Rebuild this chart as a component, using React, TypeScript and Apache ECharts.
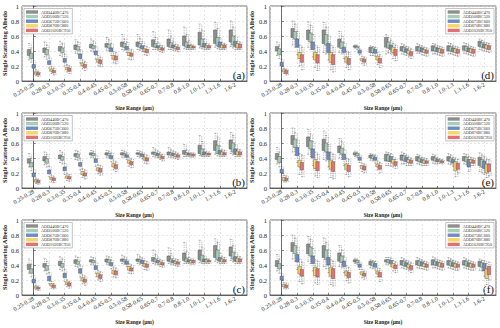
import React, { useEffect, useRef } from "react";
import * as echarts from "echarts";

const SIZE_RANGES = ["0.25-0.28", "0.28-0.3", "0.3-0.35", "0.35-0.4", "0.4-0.45", "0.45-0.5", "0.5-0.58", "0.58-0.65", "0.65-0.7", "0.7-0.8", "0.8-1.0", "1.0-1.3", "1.3-1.6", "1.6-2"];
const SERIES_NAMES = ["AOD440BC470", "AOD500BC520", "AOD675BC660", "AOD870BC880", "AOD1020BC950"];
const COLORS = ["#8e8e8e", "#a6cdb5", "#6f8bbf", "#f4d766", "#e27272"];
const PANEL_LABELS = ["(a)", "(b)", "(c)", "(d)", "(e)", "(f)"];
const Y_TICKS = [0, 0.2, 0.4, 0.6, 0.8, 1];

// each entry: [lower whisker, Q1, Q3, upper whisker]
const A_GREY = [[0.28,0.34,0.42,0.5],[0.32,0.38,0.44,0.52],[0.34,0.4,0.46,0.53],[0.37,0.42,0.48,0.55],[0.4,0.44,0.49,0.56],[0.41,0.45,0.5,0.58],[0.42,0.46,0.52,0.62],[0.42,0.46,0.52,0.62],[0.42,0.46,0.55,0.66],[0.42,0.46,0.56,0.68],[0.43,0.47,0.6,0.72],[0.44,0.48,0.65,0.76],[0.45,0.5,0.68,0.78],[0.46,0.52,0.68,0.8]];
const A_GREEN = [[0.25,0.3,0.37,0.44],[0.29,0.35,0.42,0.48],[0.32,0.38,0.44,0.5],[0.36,0.41,0.46,0.52],[0.39,0.43,0.47,0.53],[0.4,0.44,0.49,0.55],[0.41,0.45,0.5,0.56],[0.41,0.45,0.5,0.57],[0.42,0.45,0.5,0.58],[0.42,0.45,0.51,0.6],[0.42,0.45,0.52,0.62],[0.43,0.46,0.56,0.68],[0.43,0.47,0.58,0.7],[0.44,0.48,0.6,0.72]];
const A_BLUE = [[0.13,0.17,0.22,0.27],[0.17,0.22,0.27,0.32],[0.2,0.25,0.3,0.36],[0.24,0.3,0.36,0.42],[0.29,0.35,0.4,0.46],[0.34,0.39,0.44,0.5],[0.38,0.42,0.46,0.52],[0.39,0.43,0.47,0.53],[0.41,0.44,0.47,0.52],[0.41,0.44,0.48,0.53],[0.42,0.44,0.48,0.54],[0.42,0.45,0.5,0.56],[0.42,0.45,0.52,0.58],[0.42,0.46,0.53,0.6]];
const A_YELLOW = [[0.07,0.09,0.12,0.15],[0.1,0.13,0.16,0.19],[0.12,0.15,0.18,0.22],[0.16,0.2,0.24,0.28],[0.2,0.25,0.29,0.34],[0.24,0.29,0.34,0.39],[0.29,0.34,0.38,0.43],[0.35,0.39,0.43,0.47],[0.39,0.42,0.45,0.48],[0.4,0.43,0.46,0.49],[0.42,0.44,0.47,0.49],[0.42,0.44,0.47,0.5],[0.42,0.44,0.48,0.51],[0.42,0.44,0.5,0.53]];
const A_RED = [[0.06,0.08,0.11,0.13],[0.08,0.11,0.14,0.17],[0.1,0.13,0.17,0.2],[0.14,0.18,0.22,0.26],[0.19,0.23,0.28,0.32],[0.23,0.28,0.33,0.38],[0.28,0.33,0.37,0.42],[0.34,0.38,0.42,0.46],[0.38,0.41,0.44,0.47],[0.39,0.42,0.45,0.48],[0.42,0.44,0.46,0.48],[0.42,0.44,0.47,0.49],[0.42,0.44,0.48,0.5],[0.42,0.44,0.49,0.52]];

const B_GREY = [[0.28,0.33,0.39,0.46],[0.31,0.36,0.42,0.48],[0.34,0.39,0.44,0.5],[0.38,0.42,0.46,0.5],[0.41,0.44,0.47,0.5],[0.41,0.44,0.47,0.5],[0.41,0.44,0.47,0.5],[0.42,0.45,0.47,0.5],[0.42,0.45,0.48,0.54],[0.41,0.44,0.48,0.54],[0.42,0.45,0.5,0.58],[0.43,0.46,0.57,0.7],[0.45,0.5,0.63,0.73],[0.46,0.52,0.64,0.74]];
const B_GREEN = [[0.23,0.28,0.34,0.4],[0.28,0.33,0.39,0.45],[0.32,0.37,0.42,0.47],[0.37,0.41,0.45,0.49],[0.4,0.43,0.46,0.49],[0.4,0.43,0.46,0.49],[0.41,0.44,0.46,0.49],[0.41,0.44,0.46,0.49],[0.41,0.44,0.47,0.51],[0.41,0.44,0.47,0.51],[0.42,0.44,0.47,0.51],[0.42,0.44,0.52,0.62],[0.43,0.46,0.57,0.68],[0.44,0.48,0.6,0.7]];
const B_BLUE = [[0.11,0.15,0.2,0.25],[0.15,0.19,0.24,0.29],[0.18,0.23,0.28,0.33],[0.24,0.29,0.34,0.39],[0.29,0.34,0.39,0.44],[0.35,0.39,0.43,0.47],[0.38,0.41,0.44,0.47],[0.39,0.42,0.45,0.48],[0.4,0.43,0.46,0.49],[0.4,0.43,0.46,0.49],[0.42,0.44,0.46,0.48],[0.42,0.44,0.48,0.52],[0.42,0.45,0.5,0.56],[0.42,0.45,0.52,0.58]];
const B_YELLOW = [[0.06,0.08,0.11,0.13],[0.08,0.11,0.14,0.17],[0.1,0.13,0.16,0.19],[0.14,0.18,0.22,0.26],[0.19,0.23,0.27,0.31],[0.24,0.28,0.33,0.37],[0.29,0.33,0.37,0.41],[0.33,0.37,0.41,0.45],[0.38,0.41,0.44,0.47],[0.39,0.42,0.45,0.48],[0.41,0.43,0.45,0.47],[0.42,0.44,0.46,0.48],[0.42,0.44,0.48,0.51],[0.42,0.44,0.49,0.52]];
const B_RED = [[0.05,0.07,0.1,0.12],[0.07,0.1,0.13,0.15],[0.09,0.12,0.15,0.18],[0.12,0.16,0.2,0.24],[0.17,0.21,0.26,0.3],[0.22,0.26,0.31,0.35],[0.27,0.31,0.35,0.39],[0.32,0.36,0.4,0.44],[0.36,0.39,0.42,0.45],[0.38,0.41,0.44,0.46],[0.41,0.43,0.45,0.47],[0.42,0.44,0.46,0.48],[0.42,0.44,0.47,0.5],[0.42,0.44,0.48,0.51]];

const C_GREY = [[0.29,0.34,0.41,0.48],[0.32,0.37,0.42,0.49],[0.34,0.39,0.45,0.51],[0.38,0.42,0.47,0.52],[0.41,0.44,0.47,0.51],[0.41,0.44,0.48,0.52],[0.42,0.45,0.48,0.53],[0.42,0.45,0.48,0.54],[0.42,0.45,0.5,0.6],[0.42,0.45,0.52,0.63],[0.42,0.46,0.56,0.7],[0.43,0.47,0.6,0.73],[0.45,0.5,0.66,0.75],[0.46,0.52,0.64,0.74]];
const C_GREEN = [[0.24,0.29,0.35,0.41],[0.28,0.33,0.39,0.45],[0.32,0.37,0.42,0.48],[0.37,0.41,0.45,0.5],[0.4,0.43,0.46,0.5],[0.4,0.43,0.47,0.51],[0.41,0.44,0.47,0.51],[0.41,0.44,0.47,0.51],[0.41,0.44,0.48,0.54],[0.41,0.44,0.48,0.55],[0.42,0.44,0.49,0.58],[0.42,0.45,0.53,0.64],[0.43,0.47,0.6,0.7],[0.44,0.48,0.57,0.66]];
const C_BLUE = [[0.12,0.16,0.21,0.26],[0.15,0.19,0.25,0.3],[0.18,0.23,0.29,0.34],[0.24,0.29,0.35,0.4],[0.29,0.34,0.39,0.44],[0.35,0.39,0.43,0.47],[0.38,0.41,0.45,0.48],[0.39,0.42,0.46,0.49],[0.4,0.43,0.46,0.49],[0.4,0.43,0.46,0.49],[0.42,0.44,0.47,0.5],[0.42,0.44,0.48,0.52],[0.42,0.45,0.5,0.56],[0.42,0.45,0.51,0.57]];
const C_YELLOW = [[0.07,0.09,0.11,0.13],[0.09,0.12,0.15,0.18],[0.11,0.14,0.17,0.2],[0.15,0.19,0.23,0.27],[0.2,0.24,0.29,0.33],[0.24,0.28,0.33,0.37],[0.29,0.33,0.38,0.42],[0.34,0.38,0.42,0.46],[0.38,0.41,0.44,0.47],[0.39,0.42,0.45,0.48],[0.41,0.43,0.46,0.48],[0.42,0.44,0.47,0.49],[0.42,0.44,0.48,0.51],[0.42,0.44,0.49,0.52]];
const C_RED = [[0.06,0.08,0.1,0.12],[0.08,0.1,0.13,0.15],[0.09,0.12,0.16,0.18],[0.13,0.17,0.21,0.25],[0.18,0.22,0.27,0.31],[0.23,0.27,0.32,0.36],[0.28,0.32,0.36,0.4],[0.33,0.37,0.41,0.45],[0.37,0.4,0.43,0.46],[0.38,0.41,0.44,0.47],[0.41,0.43,0.46,0.48],[0.42,0.44,0.46,0.48],[0.42,0.44,0.47,0.5],[0.42,0.44,0.48,0.51]];

const D_GREY = [[0.34,0.4,0.46,0.52],[0.48,0.58,0.7,0.8],[0.45,0.55,0.68,0.79],[0.38,0.5,0.68,0.78],[0.38,0.45,0.56,0.66],[0.44,0.45,0.47,0.48],[0.34,0.38,0.45,0.47],[0.36,0.45,0.58,0.62],[0.36,0.4,0.46,0.5],[0.37,0.4,0.46,0.5],[0.36,0.4,0.47,0.5],[0.36,0.4,0.47,0.51],[0.37,0.41,0.47,0.51],[0.42,0.46,0.53,0.56]];
const D_GREEN = [[0.3,0.35,0.43,0.48],[0.45,0.56,0.66,0.76],[0.42,0.52,0.64,0.74],[0.36,0.48,0.62,0.72],[0.36,0.43,0.52,0.6],[0.42,0.44,0.46,0.48],[0.34,0.38,0.44,0.46],[0.38,0.44,0.52,0.58],[0.35,0.39,0.45,0.48],[0.37,0.4,0.45,0.48],[0.36,0.4,0.45,0.49],[0.36,0.4,0.46,0.5],[0.36,0.4,0.46,0.5],[0.41,0.45,0.51,0.54]];
const D_BLUE = [[0.16,0.2,0.25,0.29],[0.35,0.45,0.56,0.66],[0.32,0.42,0.52,0.62],[0.28,0.38,0.5,0.6],[0.3,0.38,0.45,0.52],[0.35,0.37,0.41,0.43],[0.33,0.37,0.42,0.45],[0.36,0.42,0.48,0.54],[0.34,0.38,0.43,0.46],[0.35,0.39,0.44,0.47],[0.35,0.39,0.44,0.47],[0.35,0.39,0.44,0.47],[0.35,0.39,0.44,0.47],[0.4,0.44,0.49,0.52]];
const D_YELLOW = [[0.1,0.12,0.15,0.17],[0.2,0.3,0.38,0.48],[0.18,0.28,0.38,0.48],[0.15,0.25,0.38,0.48],[0.18,0.25,0.32,0.4],[0.23,0.27,0.3,0.33],[0.22,0.28,0.33,0.38],[0.3,0.38,0.45,0.5],[0.32,0.36,0.41,0.45],[0.34,0.38,0.42,0.45],[0.34,0.38,0.43,0.46],[0.34,0.38,0.43,0.46],[0.34,0.38,0.43,0.46],[0.39,0.43,0.48,0.51]];
const D_RED = [[0.08,0.1,0.14,0.16],[0.15,0.25,0.35,0.45],[0.14,0.24,0.35,0.45],[0.12,0.22,0.35,0.45],[0.15,0.22,0.3,0.38],[0.21,0.25,0.29,0.32],[0.18,0.24,0.3,0.35],[0.27,0.34,0.42,0.48],[0.3,0.34,0.39,0.43],[0.33,0.37,0.41,0.44],[0.33,0.37,0.42,0.45],[0.33,0.37,0.42,0.45],[0.33,0.37,0.42,0.45],[0.38,0.42,0.47,0.5]];

const E_GREY = [[0.32,0.38,0.46,0.54],[0.48,0.58,0.7,0.8],[0.45,0.55,0.68,0.78],[0.38,0.5,0.65,0.76],[0.4,0.47,0.56,0.66],[0.42,0.44,0.47,0.49],[0.37,0.4,0.44,0.46],[0.3,0.36,0.45,0.48],[0.32,0.37,0.44,0.48],[0.32,0.36,0.42,0.45],[0.33,0.37,0.42,0.45],[0.32,0.36,0.42,0.46],[0.32,0.36,0.42,0.46],[0.22,0.3,0.41,0.47]];
const E_GREEN = [[0.28,0.34,0.42,0.48],[0.44,0.54,0.65,0.74],[0.42,0.52,0.63,0.72],[0.36,0.48,0.6,0.7],[0.38,0.45,0.53,0.62],[0.41,0.43,0.46,0.48],[0.36,0.39,0.43,0.45],[0.3,0.36,0.44,0.47],[0.32,0.37,0.43,0.46],[0.31,0.35,0.4,0.43],[0.32,0.36,0.4,0.43],[0.31,0.35,0.4,0.44],[0.31,0.35,0.41,0.45],[0.2,0.28,0.38,0.44]];
const E_BLUE = [[0.16,0.2,0.25,0.29],[0.34,0.43,0.54,0.64],[0.3,0.4,0.52,0.62],[0.28,0.38,0.48,0.58],[0.3,0.38,0.45,0.52],[0.34,0.37,0.41,0.44],[0.33,0.37,0.41,0.44],[0.29,0.35,0.42,0.46],[0.3,0.35,0.41,0.44],[0.3,0.34,0.38,0.41],[0.32,0.35,0.38,0.4],[0.29,0.33,0.38,0.41],[0.22,0.28,0.38,0.42],[0.18,0.26,0.36,0.42]];
const E_YELLOW = [[0.08,0.1,0.14,0.17],[0.18,0.28,0.37,0.46],[0.16,0.26,0.38,0.48],[0.14,0.25,0.37,0.47],[0.18,0.25,0.32,0.4],[0.22,0.26,0.3,0.33],[0.24,0.28,0.32,0.36],[0.28,0.33,0.38,0.42],[0.3,0.34,0.38,0.41],[0.3,0.33,0.37,0.4],[0.33,0.35,0.37,0.39],[0.15,0.23,0.35,0.4],[0.3,0.34,0.38,0.41],[0.14,0.2,0.32,0.38]];
const E_RED = [[0.08,0.1,0.13,0.16],[0.15,0.24,0.34,0.44],[0.14,0.23,0.35,0.45],[0.12,0.22,0.35,0.45],[0.15,0.22,0.3,0.38],[0.2,0.24,0.29,0.32],[0.2,0.25,0.3,0.34],[0.26,0.3,0.35,0.38],[0.3,0.33,0.37,0.4],[0.3,0.33,0.36,0.39],[0.32,0.34,0.36,0.38],[0.2,0.25,0.33,0.38],[0.3,0.33,0.37,0.4],[0.16,0.22,0.32,0.38]];

const F_GREY = [[0.32,0.38,0.46,0.54],[0.48,0.58,0.7,0.8],[0.45,0.55,0.68,0.78],[0.38,0.5,0.66,0.76],[0.38,0.45,0.56,0.66],[0.42,0.44,0.47,0.49],[0.36,0.4,0.45,0.47],[0.41,0.44,0.47,0.5],[0.36,0.4,0.46,0.5],[0.36,0.4,0.46,0.5],[0.36,0.4,0.47,0.51],[0.36,0.4,0.46,0.5],[0.36,0.4,0.46,0.5],[0.33,0.38,0.45,0.48]];
const F_GREEN = [[0.29,0.35,0.42,0.48],[0.45,0.55,0.66,0.76],[0.42,0.52,0.64,0.74],[0.35,0.47,0.6,0.7],[0.36,0.43,0.52,0.6],[0.41,0.43,0.46,0.48],[0.35,0.39,0.44,0.46],[0.4,0.43,0.47,0.5],[0.35,0.39,0.45,0.48],[0.35,0.39,0.45,0.48],[0.36,0.4,0.45,0.49],[0.35,0.39,0.45,0.48],[0.35,0.39,0.45,0.48],[0.32,0.37,0.43,0.46]];
const F_BLUE = [[0.16,0.2,0.25,0.29],[0.34,0.44,0.54,0.64],[0.32,0.42,0.52,0.62],[0.3,0.4,0.5,0.6],[0.3,0.38,0.45,0.52],[0.34,0.37,0.41,0.44],[0.33,0.37,0.42,0.45],[0.38,0.42,0.46,0.49],[0.34,0.38,0.43,0.46],[0.35,0.39,0.44,0.47],[0.35,0.39,0.44,0.47],[0.34,0.38,0.43,0.46],[0.34,0.38,0.43,0.46],[0.25,0.32,0.42,0.46]];
const F_YELLOW = [[0.09,0.11,0.14,0.16],[0.18,0.28,0.38,0.48],[0.16,0.26,0.37,0.47],[0.14,0.25,0.37,0.47],[0.19,0.26,0.32,0.39],[0.23,0.27,0.31,0.34],[0.24,0.28,0.32,0.36],[0.32,0.37,0.42,0.46],[0.32,0.36,0.41,0.45],[0.34,0.38,0.42,0.45],[0.34,0.38,0.43,0.46],[0.33,0.37,0.42,0.45],[0.33,0.37,0.42,0.45],[0.14,0.22,0.35,0.42]];
const F_RED = [[0.08,0.1,0.13,0.16],[0.15,0.25,0.34,0.44],[0.14,0.24,0.35,0.45],[0.12,0.22,0.35,0.45],[0.16,0.23,0.3,0.37],[0.21,0.25,0.29,0.32],[0.18,0.24,0.3,0.35],[0.3,0.35,0.4,0.44],[0.3,0.34,0.39,0.43],[0.33,0.37,0.41,0.44],[0.33,0.37,0.42,0.45],[0.33,0.37,0.41,0.44],[0.33,0.37,0.41,0.44],[0.2,0.27,0.38,0.44]];

const PANELS = [
  [A_GREY, A_GREEN, A_BLUE, A_YELLOW, A_RED],
  [B_GREY, B_GREEN, B_BLUE, B_YELLOW, B_RED],
  [C_GREY, C_GREEN, C_BLUE, C_YELLOW, C_RED],
  [D_GREY, D_GREEN, D_BLUE, D_YELLOW, D_RED],
  [E_GREY, E_GREEN, E_BLUE, E_YELLOW, E_RED],
  [F_GREY, F_GREEN, F_BLUE, F_YELLOW, F_RED],
];

const FONT = "Liberation Serif";
const GRID_LEFTS = [21, 21, 21, 270, 270, 270];
const GRID_TOPS = [6, 113, 220, 6, 113, 220];
const GRID_W = 226;
const GRID_H = 75;

function buildOption() {
  const grid: any[] = [];
  const xAxis: any[] = [];
  const yAxis: any[] = [];
  const series: any[] = [];
  const legend: any[] = [];
  const graphic: any[] = [];

  PANELS.forEach((panel, p) => {
    grid.push({
      left: GRID_LEFTS[p], top: GRID_TOPS[p], width: GRID_W, height: GRID_H,
      show: true, borderColor: "#333", borderWidth: 0.7, backgroundColor: "transparent",
    });
    xAxis.push({
      type: "value", gridIndex: p, min: -0.75, max: SIZE_RANGES.length - 0.25,
      splitNumber: SIZE_RANGES.length, minInterval: 1, maxInterval: 1,
      axisLine: { show: true, lineStyle: { color: "#333", width: 0.7 } },
      axisTick: { show: true, inside: true, length: 2, lineStyle: { color: "#333", width: 0.6 } },
      axisLabel: {
        rotate: 30, fontSize: 6, fontFamily: FONT, color: "#222", margin: 3,
        showMinLabel: false, showMaxLabel: false,
        formatter: (v: number) => (Number.isInteger(v) && v >= 0 && v < SIZE_RANGES.length ? SIZE_RANGES[v] : ""),
      },
      splitLine: { show: true, lineStyle: { color: "#d6d6d6", type: [2, 2], width: 0.6 } },
      name: "Size Range (μm)", nameLocation: "middle", nameGap: 24,
      nameTextStyle: { fontFamily: FONT, fontWeight: "bold", fontSize: 5.5, color: "#222" },
    });
    yAxis.push({
      type: "value", gridIndex: p, min: 0, max: 1, interval: 0.2,
      axisLine: { show: true, lineStyle: { color: "#333", width: 0.7 } },
      axisTick: { show: true, inside: true, length: 2, lineStyle: { color: "#333", width: 0.6 } },
      axisLabel: { fontSize: 6.5, fontFamily: FONT, color: "#222", margin: 3,
        formatter: (v: number) => String(Y_TICKS.find((t) => Math.abs(t - v) < 1e-6) ?? v) },
      splitLine: { show: true, lineStyle: { color: "#d6d6d6", type: [2, 2], width: 0.6 } },
      name: "Single Scattering Albedo", nameLocation: "middle", nameGap: 13,
      nameTextStyle: { fontFamily: FONT, fontWeight: "bold", fontSize: 6.2, color: "#222" },
    });

    panel.forEach((rows, s) => {
      series.push({
        type: "custom", name: SERIES_NAMES[s], xAxisIndex: p, yAxisIndex: p,
        itemStyle: { color: COLORS[s] }, clip: true,
        encode: { x: 0, y: [1, 2, 3, 4] },
        data: rows.map((r, i) => [i, r[0], r[1], r[2], r[3]]),
        renderItem: (params: any, api: any) => {
          const ci = api.value(0);
          const cx = api.coord([ci, 0])[0];
          const bw = api.size([1, 0])[0];
          const step = bw * 0.15;
          const w = bw * 0.22;
          const x = cx + (s - 2) * step;
          const yLo = api.coord([ci, api.value(1)])[1];
          const yQ1 = api.coord([ci, api.value(2)])[1];
          const yQ3 = api.coord([ci, api.value(3)])[1];
          const yHi = api.coord([ci, api.value(4)])[1];
          const wStyle = { stroke: "#777", lineWidth: 0.6, lineDash: [0.8, 0.9] };
          const cStyle = { stroke: "#777", lineWidth: 0.5 };
          const wx = x + w * 0.5 + 0.4;
          return {
            type: "group",
            children: [
              { type: "line", shape: { x1: wx, y1: yLo, x2: wx, y2: yQ1 }, style: wStyle },
              { type: "line", shape: { x1: wx, y1: yQ3, x2: wx, y2: yHi }, style: wStyle },
              { type: "line", shape: { x1: x, y1: yLo, x2: x, y2: yQ1 }, style: wStyle },
              { type: "line", shape: { x1: x, y1: yQ3, x2: x, y2: yHi }, style: wStyle },
              { type: "line", shape: { x1: x - w * 0.3, y1: yLo, x2: x + w * 0.3, y2: yLo }, style: cStyle },
              { type: "line", shape: { x1: x - w * 0.3, y1: yHi, x2: x + w * 0.3, y2: yHi }, style: cStyle },
              { type: "rect", shape: { x: x - w / 2, y: yQ3, width: w, height: yQ1 - yQ3 },
                style: { fill: COLORS[s], stroke: "#4a4a4a", lineWidth: 0.4 } },
            ],
          };
        },
      });
    });

    const isLeft = p < 3;
    const legendPos: any = isLeft ? { left: GRID_LEFTS[p] + 3 } : { right: 500 - (GRID_LEFTS[p] + GRID_W) + 2 };
    legend.push({
      ...legendPos, top: GRID_TOPS[p] + 2.5, orient: "vertical", selectedMode: false,
      data: SERIES_NAMES, icon: "rect", itemWidth: 12, itemHeight: 3.4, itemGap: 0.6,
      padding: [1.5, 2, 1.5, 2], backgroundColor: "#fff", borderColor: "#888", borderWidth: 0.5,
      textStyle: { fontSize: 4.2, lineHeight: 4, fontFamily: FONT, color: "#333", padding: [0, 0, 0, -2] },
    });

    graphic.push({
      type: "text", x: GRID_LEFTS[p] + GRID_W - 2, y: GRID_TOPS[p] + GRID_H - 1,
      style: { text: PANEL_LABELS[p], font: `normal 11px "${FONT}"`, fill: "#111", align: "right", verticalAlign: "bottom" },
    });
  });

  return { animation: false, backgroundColor: "#fff", grid, xAxis, yAxis, series, legend, graphic };
}

export default function App() {
  const ref = useRef<HTMLDivElement>(null);
  useEffect(() => {
    if (!ref.current) return;
    const chart = echarts.init(ref.current, null, { renderer: "svg" });
    chart.setOption(buildOption() as any);
    return () => chart.dispose();
  }, []);
  return <div ref={ref} style={{ position: "fixed", left: 0, top: 0, width: 500, height: 328 }} />;
}
